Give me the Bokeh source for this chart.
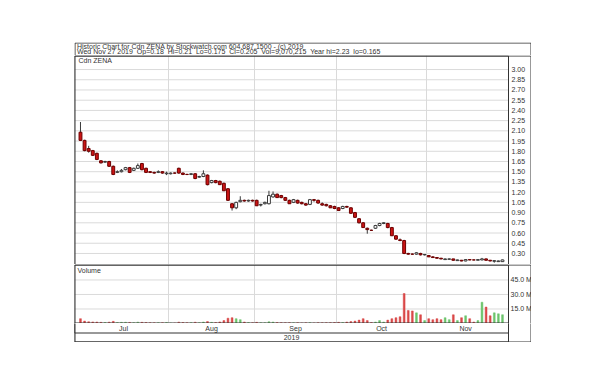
import numpy as np
from bokeh.plotting import figure
from bokeh.layouts import column
from bokeh.models import Range1d, FixedTicker, Label, ColumnDataSource, BoxAnnotation
from bokeh.embed import file_html
from bokeh.resources import INLINE
from bokeh.core.properties import value

# ---------------- data ----------------
ticker_name = "Cdn ZENA"
header_line1 = "Historic Chart for Cdn ZENA by Stockwatch.com 604.687.1500 - (c) 2019"
header_line2 = "Wed Nov 27 2019 \u00a0Op=0.18 \u00a0Hi=0.21 \u00a0Lo=0.175 \u00a0Cl=0.205 \u00a0Vol=9,070,215 \u00a0Year hi=2.23 \u00a0lo=0.165"
months = ["Jul", "Aug", "Sep", "Oct", "Nov"]
month_days = [22, 21, 20, 22, 19]
year_label = "2019"

opens = [2.08, 1.96, 1.84, 1.81, 1.77, 1.66, 1.64, 1.65, 1.58, 1.49, 1.50, 1.53, 1.56, 1.52, 1.55, 1.62, 1.55, 1.50, 1.49, 1.49, 1.50, 1.47,
         1.47, 1.48, 1.55, 1.48, 1.46, 1.46, 1.47, 1.42, 1.43, 1.45, 1.34, 1.37, 1.36, 1.33, 1.25, 1.03, 0.97, 1.06, 1.08, 1.07, 1.08,
         1.08, 1.01, 1.03, 1.03, 1.13, 1.17, 1.15, 1.12, 1.08, 1.05, 1.08, 1.05, 1.03, 1.02, 1.09, 1.08, 1.03, 1.02, 1.00, 0.99,
         0.97, 0.96, 0.99, 0.97, 0.90, 0.81, 0.75, 0.67, 0.64, 0.67, 0.71, 0.74, 0.74, 0.68, 0.56, 0.50, 0.49, 0.30, 0.29, 0.29, 0.30, 0.28,
         0.27, 0.25, 0.24, 0.23, 0.21, 0.215, 0.22, 0.195, 0.20, 0.19, 0.21, 0.205, 0.20, 0.205, 0.22, 0.20, 0.185, 0.18, 0.18]
highs = [2.23, 1.97, 1.88, 1.82, 1.78, 1.67, 1.66, 1.66, 1.59, 1.52, 1.54, 1.57, 1.57, 1.56, 1.62, 1.63, 1.56, 1.51, 1.50, 1.52, 1.51, 1.50,
         1.49, 1.49, 1.56, 1.49, 1.47, 1.48, 1.48, 1.44, 1.52, 1.46, 1.38, 1.38, 1.37, 1.34, 1.26, 1.04, 1.06, 1.14, 1.09, 1.09, 1.09,
         1.09, 1.03, 1.06, 1.22, 1.21, 1.18, 1.16, 1.13, 1.09, 1.10, 1.09, 1.06, 1.04, 1.10, 1.10, 1.09, 1.05, 1.03, 1.01, 1.00,
         0.98, 1.00, 1.00, 0.98, 0.91, 0.82, 0.76, 0.68, 0.65, 0.72, 0.75, 0.76, 0.75, 0.69, 0.57, 0.52, 0.50, 0.31, 0.30, 0.32, 0.31, 0.29,
         0.275, 0.26, 0.245, 0.235, 0.225, 0.225, 0.22, 0.21, 0.205, 0.215, 0.215, 0.21, 0.215, 0.235, 0.225, 0.205, 0.20, 0.195, 0.21]
lows = [1.95, 1.80, 1.78, 1.73, 1.67, 1.62, 1.63, 1.57, 1.45, 1.48, 1.49, 1.52, 1.48, 1.51, 1.54, 1.52, 1.48, 1.48, 1.47, 1.48, 1.47, 1.45,
        1.46, 1.47, 1.47, 1.45, 1.45, 1.45, 1.39, 1.41, 1.42, 1.30, 1.33, 1.33, 1.31, 1.22, 1.07, 0.93, 0.95, 1.05, 1.06, 1.06, 1.06,
        1.00, 0.99, 1.02, 1.02, 1.12, 1.12, 1.11, 1.07, 1.03, 1.04, 1.03, 1.02, 1.00, 1.01, 1.06, 1.03, 1.00, 0.99, 0.97, 0.95,
        0.93, 0.95, 0.97, 0.88, 0.82, 0.74, 0.68, 0.59, 0.63, 0.66, 0.70, 0.73, 0.67, 0.56, 0.50, 0.48, 0.29, 0.28, 0.28, 0.28, 0.27, 0.27,
        0.25, 0.24, 0.225, 0.215, 0.205, 0.205, 0.195, 0.19, 0.185, 0.185, 0.20, 0.20, 0.20, 0.20, 0.195, 0.185, 0.165, 0.175, 0.175]
closes = [1.96, 1.81, 1.80, 1.74, 1.68, 1.63, 1.65, 1.58, 1.46, 1.50, 1.52, 1.56, 1.49, 1.55, 1.59, 1.53, 1.49, 1.49, 1.48, 1.50, 1.48, 1.48,
          1.48, 1.48, 1.48, 1.46, 1.46, 1.47, 1.40, 1.43, 1.47, 1.31, 1.37, 1.34, 1.31, 1.22, 1.08, 0.97, 1.05, 1.08, 1.07, 1.08, 1.07,
          1.00, 1.02, 1.05, 1.15, 1.17, 1.12, 1.12, 1.08, 1.03, 1.09, 1.04, 1.03, 1.01, 1.09, 1.08, 1.04, 1.01, 1.00, 0.97, 0.96,
          0.93, 0.99, 0.98, 0.89, 0.83, 0.75, 0.68, 0.65, 0.64, 0.71, 0.74, 0.75, 0.68, 0.56, 0.51, 0.49, 0.30, 0.29, 0.29, 0.31, 0.28, 0.285,
          0.25, 0.24, 0.23, 0.22, 0.22, 0.22, 0.20, 0.205, 0.19, 0.21, 0.205, 0.205, 0.21, 0.22, 0.20, 0.19, 0.195, 0.19, 0.205]
volumes_m = [5.0, 2.5, 1.8, 1.6, 1.5, 1.2, 1.0, 1.4, 2.2, 1.0, 1.2, 1.3, 1.1, 0.9, 1.4, 1.2, 1.0, 0.8, 0.7, 0.9, 0.8, 1.0,
             0.6, 0.5, 1.4, 1.0, 0.8, 0.9, 1.3, 0.8, 1.5, 2.0, 1.2, 1.0, 1.6, 3.0, 5.5, 6.0, 5.0, 4.0, 1.5, 1.0, 0.8,
             1.2, 0.8, 0.7, 1.8, 1.5, 1.0, 0.9, 0.8, 0.9, 0.7, 0.8, 0.6, 0.7, 0.9, 0.6, 0.8, 0.7, 0.8, 0.9, 1.0,
             1.2, 1.0, 1.5, 2.0, 2.5, 3.5, 5.0, 3.0, 1.0, 1.5, 3.0, 1.5, 3.5, 5.0, 6.0, 7.0, 31.0, 13.5, 13.0, 11.0, 9.0, 3.0,
             5.0, 4.0, 5.0, 4.0, 6.0, 4.0, 9.0, 3.0, 6.0, 8.0, 5.0, 1.5, 3.0, 22.0, 17.0, 8.0, 11.0, 10.0, 9.07]
price_ticks = [0.30, 0.45, 0.60, 0.75, 0.90, 1.05, 1.20, 1.35, 1.50, 1.65, 1.80, 1.95, 2.10, 2.25, 2.40, 2.55, 2.70, 2.85, 3.00]
volume_ticks = [15, 30, 45]
volume_tick_labels = ["15.0 M", "30.0 M", "45.0 M"]

# ---------------- derived ----------------
n = len(closes)
xs = list(range(n))
bounds = list(np.cumsum(month_days)[:-1] - 0.5)
starts = [0] + list(np.cumsum(month_days)[:-1])
ends = list(np.cumsum(month_days) - 1)
month_centers = [(s + e) / 2 for s, e in zip(starts, ends)]
up = [c > o for o, c in zip(opens, closes)]

src = ColumnDataSource(dict(
    x=xs, o=opens, h=highs, l=lows, c=closes,
    top=[max(o, c) for o, c in zip(opens, closes)],
    bot=[min(o, c) for o, c in zip(opens, closes)],
    fill=["#ffffff" if u else "#cc1414" for u in up],
    edge=["#3a3a3a" if u else "#6e0000" for u in up],
    vol=volumes_m,
    vcol=["#6cc46c" if u else "#d94848" for u in up],
))

FONT = "Liberation Sans"
TXT = "#333333"
LINE = "#333333"
GRID = "#dadada"
DATA_W = 434          # width of the chart area
TOTAL_W = 457         # chart area + right label column
X0 = -1.46
X_DATA_END = n + 0.47
X_END = X0 + (X_DATA_END - X0) * TOTAL_W / DATA_W
xr = Range1d(X0, X_END)


def cbox(**kw):
    base = dict(fill_color=None, fill_alpha=0, line_color=LINE, line_alpha=1.0, line_width=1, level="overlay")
    base.update(kw)
    return BoxAnnotation(**base)


def outer_box(h, top_visible=True, bottom_visible=False):
    return cbox(left=0.5, right=TOTAL_W - 0.5,
                top=0.5 if top_visible else -4, bottom=h - 0.5 if bottom_visible else h + 4,
                left_units="canvas", right_units="canvas", top_units="canvas", bottom_units="canvas")


def data_box(h, top=None, bottom=None):
    # box around the chart area only (gives the divider to the label column)
    return cbox(left=X0, right=X_DATA_END, left_units="data", right_units="data",
                top=top if top is not None else -4, bottom=bottom if bottom is not None else h + 4,
                top_units="canvas", bottom_units="canvas")


def base_fig(h, yr):
    f = figure(width=TOTAL_W, height=h, x_range=xr, y_range=yr, output_backend="svg",
               toolbar_location=None, x_axis_location=None, y_axis_location=None,
               min_border_left=0, min_border_right=0, min_border_top=0, min_border_bottom=0)
    f.outline_line_color = None
    f.background_fill_color = "white"
    f.border_fill_color = "white"
    f.ygrid.visible = False
    f.xgrid.ticker = FixedTicker(ticks=bounds)
    f.xgrid.grid_line_color = GRID
    return f

# ---------------- header ----------------
HDR_H = 13
hdr = figure(width=TOTAL_W, height=HDR_H, x_range=Range1d(0, TOTAL_W), y_range=Range1d(0, HDR_H),
             output_backend="svg", toolbar_location=None, x_axis_location=None, y_axis_location=None,
             min_border_left=0, min_border_right=0, min_border_top=0, min_border_bottom=0)
hdr.outline_line_color = None
hdr.xgrid.visible = False
hdr.ygrid.visible = False
hdr.text(x=[2.5, 2.5], y=[9.4, 3.9], text=[header_line1, header_line2], text_font=value(FONT),
         text_font_size="7px", text_color=TXT, text_baseline="middle", text_align="left")
hdr.add_layout(cbox(left=0.5, right=TOTAL_W - 0.5, top=0.5, bottom=HDR_H + 4,
                    left_units="canvas", right_units="canvas", top_units="canvas", bottom_units="canvas"))

# ---------------- price panel ----------------
P_H = 209
P_LO, P_HI = 0.138, 3.206
p = base_fig(P_H, Range1d(P_LO, P_HI))
p.segment(x0=[X0] * len(price_ticks), y0=price_ticks, x1=[X_DATA_END] * len(price_ticks), y1=price_ticks,
          line_color=GRID, line_width=1)
p.segment(x0="x", y0="l", x1="x", y1="h", source=src, line_color="#3a3a3a", line_width=1)
p.vbar(x="x", width=0.7, top="top", bottom="bot", source=src, fill_color="fill", line_color="edge", line_width=1)
p.text(x=[X_DATA_END] * len(price_ticks), y=price_ticks, text=[f"{t:.2f}" for t in price_ticks],
       x_offset=3, text_font=value(FONT), text_font_size="7px", text_color=TXT,
       text_align="left", text_baseline="middle")
p.add_layout(Label(x=X0, y=P_HI, x_offset=4, y_offset=-1, text=ticker_name, text_baseline="top",
                   text_font=FONT, text_font_size="7px", text_color=TXT))
p.add_layout(outer_box(P_H, top_visible=True))
p.add_layout(data_box(P_H, top=0.5))

# ---------------- volume panel ----------------
V_H = 59
V_HI = 61
v = base_fig(V_H, Range1d(0, V_HI))
v.segment(x0=[X0] * len(volume_ticks), y0=volume_ticks, x1=[X_DATA_END] * len(volume_ticks), y1=volume_ticks,
          line_color=GRID, line_width=1)
v.vbar(x="x", width=0.45, top="vol", bottom=0, source=src, fill_color="vcol", line_color="vcol", line_width=0.5)
v.text(x=[X_DATA_END] * len(volume_ticks), y=volume_ticks, text=volume_tick_labels,
       x_offset=2, text_font=value(FONT), text_font_size="7px", text_color=TXT,
       text_align="left", text_baseline="middle")
v.add_layout(Label(x=X0, y=V_HI, x_offset=3, y_offset=-2, text="Volume", text_baseline="top",
                   text_font=FONT, text_font_size="7px", text_color=TXT))
v.add_layout(outer_box(V_H, top_visible=True))
v.add_layout(data_box(V_H, top=0.5, bottom=V_H - 0.5))

# ---------------- month / year rows ----------------
T_H = 19
t = base_fig(T_H, Range1d(0, 2))
t.xgrid.visible = False
t.text(x=month_centers, y=[1.5] * len(months), text=months, text_font=value(FONT), text_font_size="7px",
       text_color=TXT, text_align="center", text_baseline="middle")
t.text(x=[(X0 + X_DATA_END) / 2], y=[0.5], text=[year_label], text_font=value(FONT), text_font_size="7px",
       text_color=TXT, text_align="center", text_baseline="middle")
t.add_layout(outer_box(T_H, top_visible=False, bottom_visible=True))
t.add_layout(data_box(T_H, bottom=9.5))
t.add_layout(data_box(T_H, bottom=T_H - 0.5))

layout = column(hdr, p, v, t, margin=(42, 0, 0, 74))

open("out.html", "w").write(file_html(layout, INLINE))
